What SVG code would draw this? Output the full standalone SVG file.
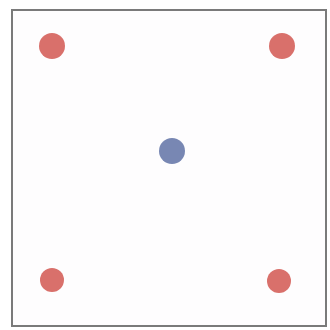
<svg xmlns="http://www.w3.org/2000/svg" width="330" height="330" viewBox="0 0 330 330">
<style>
.red{fill:#d9706b}
.blue{fill:#7887b3}
</style>
<rect width="330" height="330" fill="#ffffff"/>
<rect id="frame" x="12" y="10" width="314" height="316" fill="#fefdfe" stroke="#7a7a7a" stroke-width="2"/>
<g id="connectors"></g>
<g id="n1"><circle class="red" cx="52" cy="46" r="13"/></g>
<g id="n2"><circle class="red" cx="282" cy="46" r="13"/></g>
<g id="n3"><circle class="blue" cx="172" cy="151" r="13"/></g>
<g id="n4"><circle class="red" cx="52" cy="280" r="12"/></g>
<g id="n5"><circle class="red" cx="279" cy="281" r="12"/></g>
</svg>
